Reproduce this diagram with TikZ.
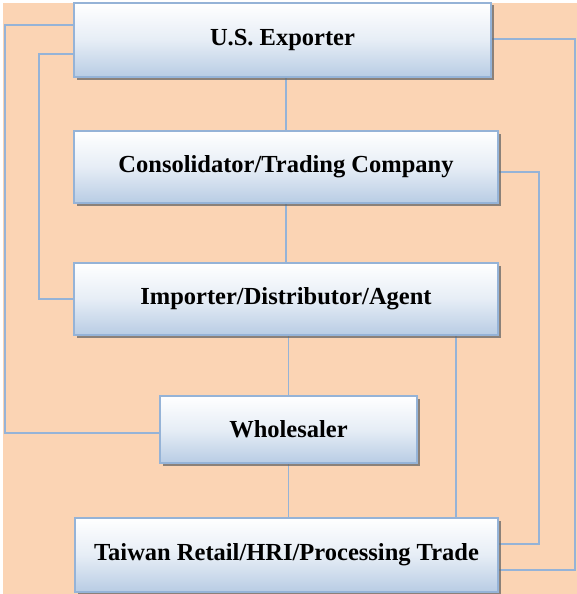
\documentclass[tikz,border=0pt]{standalone}
\usepackage{fontspec}
\setmainfont{Liberation Serif}
\usetikzlibrary{shadows}
\definecolor{peach}{HTML}{FBD4B4}
\definecolor{edgeblue}{HTML}{95B3D7}
\definecolor{boxbottom}{HTML}{B8CCE4}
\pgfdeclarelayer{back}
\pgfdeclarelayer{links}
\pgfsetlayers{back,links,main}
\tikzset{
  stage/.style={draw=edgeblue, line width=1.5pt, top color=white, bottom color=boxbottom,
    middle color=boxbottom!35!white,
    minimum height=#1, inner sep=0pt, font=\fontsize{24.5}{27}\selectfont\bfseries,
    drop shadow={shadow xshift=2.5pt, shadow yshift=-2.5pt, fill=black!60, opacity=0.75}},
  link/.style={draw=edgeblue, line width=1.6pt}
}
\begin{document}
\begin{tikzpicture}[x=1pt,y=-1pt]
\useasboundingbox (0,0) rectangle (577,594);
\begin{pgfonlayer}{back}
  \fill[peach] (3,3) rectangle (577,594);
\end{pgfonlayer}

% channel stages
\node[stage=74pt, minimum width=417pt] (exp) at (282.5,40) {U.S. Exporter};
\node[stage=72pt, minimum width=424pt] (con) at (286,167) {Consolidator/Trading Company};
\node[stage=72pt, minimum width=424pt] (imp) at (286,299) {Importer/Distributor/Agent};
\node[stage=67pt, minimum width=257pt] (whl) at (288.5,429.5) {Wholesaler};
\node[stage=74pt, minimum width=423pt] (ret) at (286.5,555) {Taiwan Retail/HRI/Processing Trade};

% routing points for the bypass lines
\coordinate (l1) at (5,25);
\coordinate (l2) at (39,54);
\coordinate (l3) at (5,433);
\coordinate (r1) at (575,39);
\coordinate (r2) at (539,172);
\coordinate (r3) at (575,570);
\coordinate (r4) at (539,544);
\coordinate (d1) at (456,335);

\begin{pgfonlayer}{links}
  % main chain
  \draw[link] (exp.south -| con.north) -- (con.north);
  \draw[link] (con.south) -- (imp.north);
  \draw[link] (imp.south -| whl.north) -- (whl.north);
  \draw[link] (whl.south) -- (ret.north -| whl.south);
  \draw[link] (d1) -- (d1 |- ret.north);
  % left bypasses
  \draw[link] (l1 -| exp.west) -- (l1) -- (l3) -- (l3 -| whl.west);
  \draw[link] (l2 -| exp.west) -- (l2) |- (imp.west);
  % right bypasses
  \draw[link] (r1 -| exp.east) -- (r1) -- (r3) -- (r3 -| ret.east);
  \draw[link] (r2 -| con.east) -- (r2) -- (r4) -- (r4 -| ret.east);
\end{pgfonlayer}
\end{tikzpicture}
\end{document}
